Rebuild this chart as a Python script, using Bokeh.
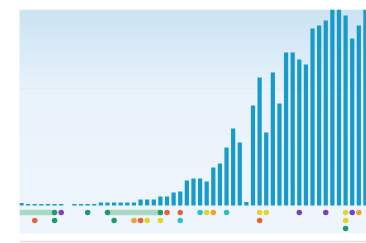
import numpy as np
from bokeh.plotting import figure
from bokeh.models import Range1d, Span, ColumnDataSource
from bokeh.embed import file_html
from bokeh.resources import INLINE

# ---- data ----
counts = [2.5, 1.5, 1.5, 1.5, 1.5, 1.5, 1.5, 0, 1.5, 1.5,
          1.5, 1.5, 3, 3, 3, 3, 3, 3, 6, 6,
          6, 9, 9, 13, 14, 25, 27, 27, 24, 38,
          42, 58, 77, 63, 3.5, 100, 128, 73, 133, 102,
          153, 153, 146, 141, 177, 180, 185, 197, 197, 190,
          167, 180, 197]
periods = list(range(len(counts)))

event_period = [5, 6, 10, 13, 21, 22, 24, 27, 28, 29, 31, 36, 37, 42, 46, 49, 50, 51,
                2, 5, 14, 17, 18, 19, 21, 24, 36, 49,
                49]
event_lane = [1] * 18 + [2] * 10 + [3]
event_kind = ["green", "purple", "green", "green", "green", "red", "red", "cyan", "yellow",
              "orange", "cyan", "yellow", "yellow", "purple", "purple", "yellow", "purple", "orange",
              "red", "green", "green", "orange", "red", "yellow", "yellow", "cyan", "red", "yellow",
              "green"]
span_start = [-1, 13]
span_end = [5, 21]

kind_colors = {"green": "#1f9a6b", "purple": "#7b3fc2", "red": "#e0663a",
               "orange": "#f4a12c", "yellow": "#e4d42a", "cyan": "#2ec0c6"}

# ---- figure ----
p = figure(width=366, height=243, output_backend="svg", toolbar_location=None,
           x_range=Range1d(-0.302, 52.16), y_range=Range1d(-38, 196),
           min_border_left=19, min_border_top=9, min_border_right=0, min_border_bottom=0)
p.axis.visible = False
p.grid.visible = False
p.outline_line_color = None
p.background_fill_color = "white"
p.border_fill_color = "white"

# gradient background panel (styling)
n = 224
ys = np.linspace(0, 1, n)  # 0 = bottom, 1 = top
stops_pos = [0.0, 0.64, 0.8, 1.0]
stops_col = np.array([[239, 246, 253], [233, 243, 251], [218, 236, 248], [204, 227, 242]])
img = np.zeros((n, 1), dtype=np.uint32)
view = img.view(dtype=np.uint8).reshape((n, 1, 4))
for c in range(3):
    view[:, 0, c] = np.interp(ys, stops_pos, stops_col[:, c]).astype(np.uint8)
view[:, 0, 3] = 255
p.image_rgba(image=[img], x=-1, y=-28, dw=55, dh=224)

# faint guide line behind the bars
p.hspan(y=[117], line_color="#e4ecf2", line_width=1)
p.add_layout(Span(location=-36, dimension="width", line_color="#fbd9d9", line_width=1.5))

# bars
p.vbar(x=periods, top=counts, bottom=0, width=0.64, fill_color="#189acb", line_color=None)

# lanes
lane_y = {1: -7, 2: -15, 3: -23}
p.hbar(y=[lane_y[1]] * len(span_start), left=span_start, right=span_end, height=5.5,
       fill_color="#8fd0ad", fill_alpha=0.75, line_color=None)

src = ColumnDataSource(dict(x=event_period, y=[lane_y[l] for l in event_lane],
                            c=[kind_colors[k] for k in event_kind]))
p.scatter(x="x", y="y", source=src, size=5.5, fill_color="c", line_color=None)

open("out.html", "w").write(file_html(p, INLINE))
